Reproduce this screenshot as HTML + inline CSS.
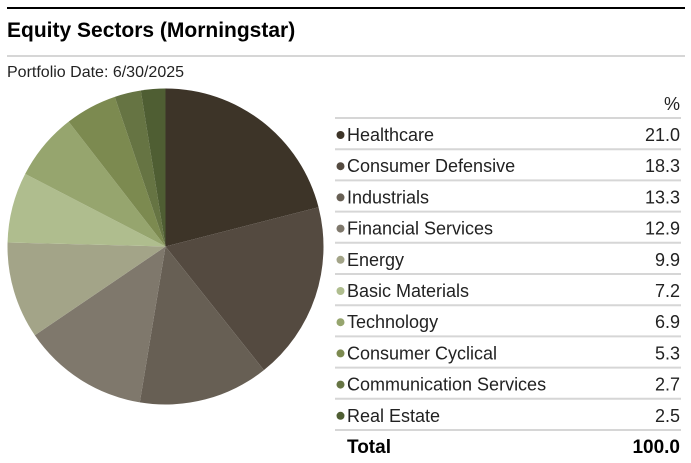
<!DOCTYPE html>
<html><head><meta charset="utf-8"><style>
body{margin:0;background:#fff;width:691px;height:463px;overflow:hidden;font-family:"Liberation Sans Narrow","Liberation Sans",sans-serif;}
svg{display:block}
</style></head><body>
<svg width="691" height="463">
<line x1="7" y1="8" x2="685" y2="8" stroke="#000" stroke-width="2"/>
<text x="7" y="37" font-size="21" font-weight="bold" fill="#000">Equity Sectors (Morningstar)</text>
<line x1="7" y1="56" x2="685" y2="56" stroke="#d6d6d6" stroke-width="2"/>
<text x="7" y="77" font-size="16" fill="#222">Portfolio Date: 6/30/2025</text>
<g id="pie"></g>
<g id="table"></g>
</svg>
<script>
const categories=["Healthcare","Consumer Defensive","Industrials","Financial Services","Energy","Basic Materials","Technology","Consumer Cyclical","Communication Services","Real Estate"];
const values=[21.0,18.3,13.3,12.9,9.9,7.2,6.9,5.3,2.7,2.5];
const colors=["#3d3428","#544a40","#675f54","#7f786c","#a3a488","#afbd8e","#96a56e","#7c8a50","#667443","#4f5e33"];
const totalLabel="100.0";
const NS="http://www.w3.org/2000/svg";
const cx=165.5,cy=246.5,r=158;
const pie=document.getElementById('pie');
const tot=values.reduce((a,b)=>a+b,0);
let acc=0;
values.forEach((v,i)=>{
  const a0=acc/tot*2*Math.PI; acc+=v; const a1=acc/tot*2*Math.PI;
  const x0=cx+r*Math.sin(a0),y0=cy-r*Math.cos(a0),x1=cx+r*Math.sin(a1),y1=cy-r*Math.cos(a1);
  const p=document.createElementNS(NS,'path');
  p.setAttribute('d',`M${cx},${cy}L${x0},${y0}A${r},${r} 0 ${a1-a0>Math.PI?1:0} 1 ${x1},${y1}Z`);
  p.setAttribute('fill',colors[i]);
  
  
  pie.appendChild(p);
});
const t=document.getElementById('table');
function el(tag,attrs,txt){const e=document.createElementNS(NS,tag);for(const k in attrs)e.setAttribute(k,attrs[k]);if(txt!=null)e.textContent=txt;t.appendChild(e);return e;}
const hdr=el('text',{x:680,y:110,'font-size':18,'text-anchor':'end',fill:'#222'},'%');


const y0=118,pitch=31.2;
categories.forEach((c,i)=>{
  const ln=el('line',{x1:335,x2:681,y1:y0+i*pitch,y2:y0+i*pitch,stroke:'#d6d6d6','stroke-width':2});
  
  
  const ty=y0+i*pitch+23;
  const dot=el('circle',{cx:340.5,cy:ty-6,r:4,fill:colors[i]});
  
  
  const lb=el('text',{x:347,y:ty,'font-size':18,fill:'#222'},c);
  
  
  const vl=el('text',{x:680,y:ty,'font-size':18,'text-anchor':'end',fill:'#222'},values[i].toFixed(1));
  
  
});
const last=y0+categories.length*pitch;
const ll=el('line',{x1:335,x2:681,y1:last,y2:last,stroke:'#d6d6d6','stroke-width':2});


const tl=el('text',{x:347,y:last+23,'font-size':19,'font-weight':'bold',fill:'#000'},'Total');


const tv=el('text',{x:680,y:last+23,'font-size':19,'font-weight':'bold','text-anchor':'end',fill:'#000'},totalLabel);


</script>
</body></html>
